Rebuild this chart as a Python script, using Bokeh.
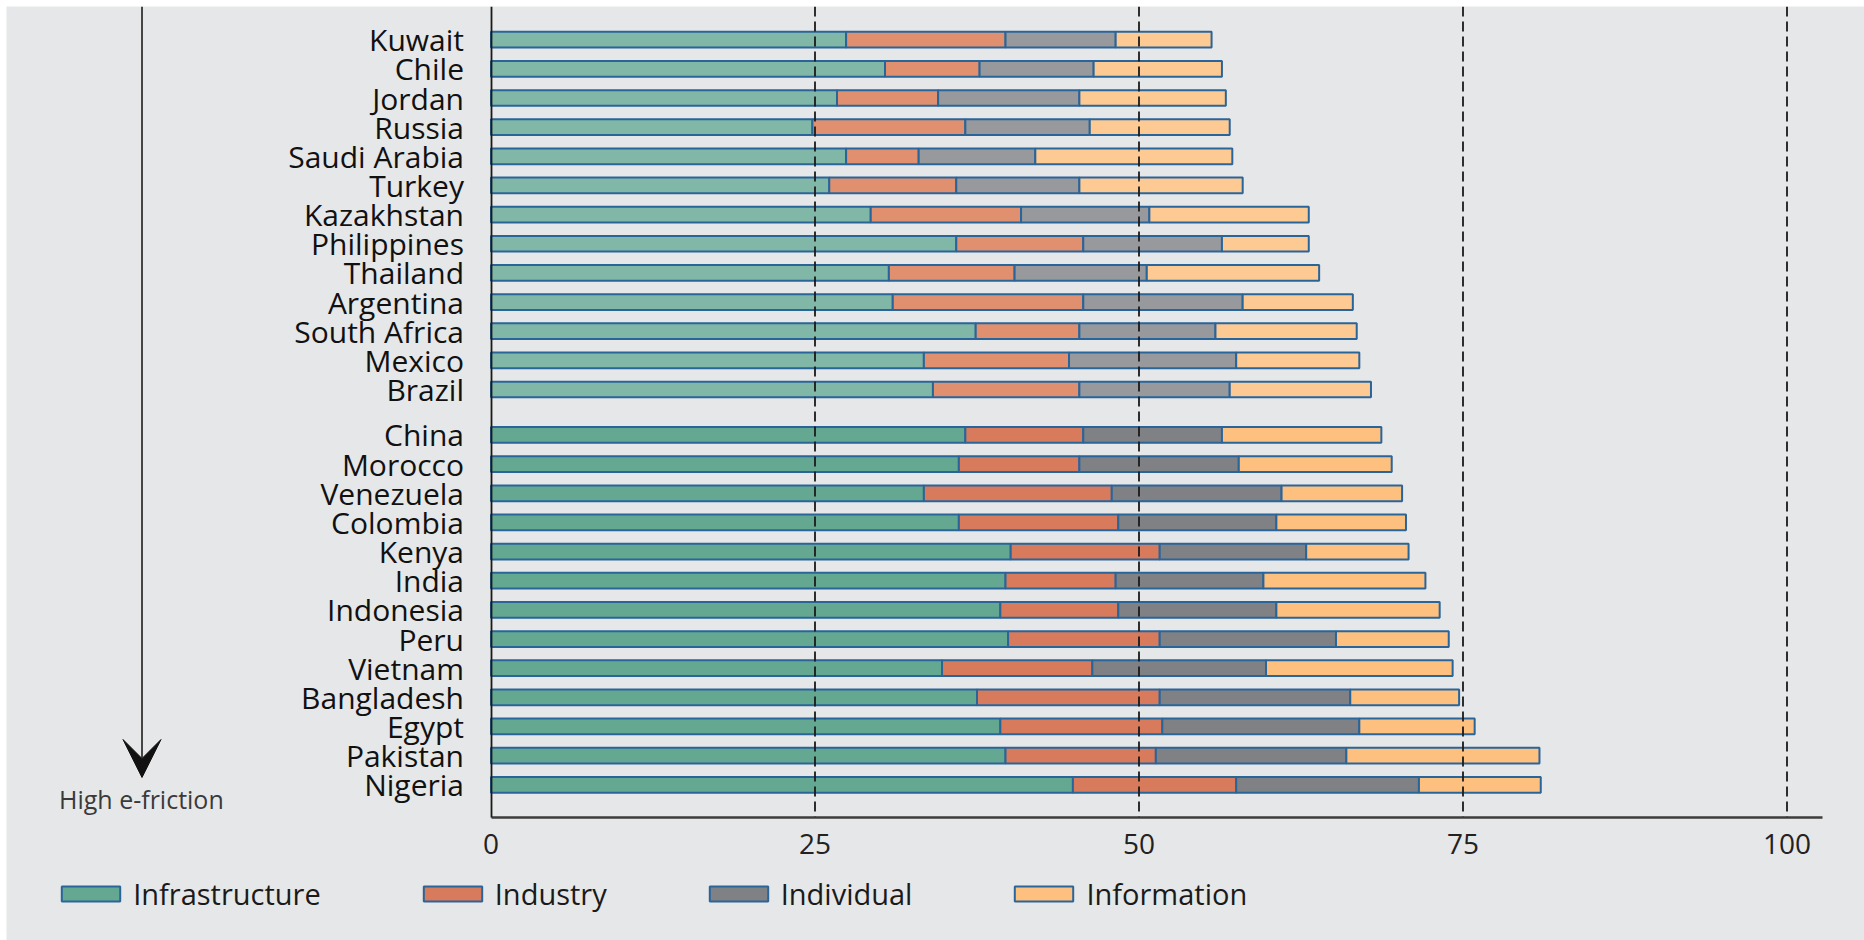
from bokeh.plotting import figure
from bokeh.models import (ColumnDataSource, Range1d, FixedTicker, Legend, LegendItem,
                          Label, Arrow, VeeHead, LinearAxis)
from bokeh.embed import file_html
from bokeh.resources import INLINE

# ---------------- data ----------------
countries_top = ["Kuwait", "Chile", "Jordan", "Russia", "Saudi Arabia", "Turkey", "Kazakhstan",
                 "Philippines", "Thailand", "Argentina", "South Africa", "Mexico", "Brazil"]
infra_top = [27.4, 30.4, 26.7, 24.8, 27.4, 26.1, 29.3, 35.9, 30.7, 31.0, 37.4, 33.4, 34.1]
industry_top = [12.3, 7.3, 7.8, 11.8, 5.6, 9.8, 11.6, 9.8, 9.7, 14.7, 8.0, 11.2, 11.3]
individual_top = [8.5, 8.8, 10.9, 9.6, 9.0, 9.5, 9.9, 10.7, 10.2, 12.3, 10.5, 12.9, 11.6]
information_top = [7.4, 9.9, 11.3, 10.8, 15.2, 12.6, 12.3, 6.7, 13.3, 8.5, 10.9, 9.5, 10.9]

countries_bot = ["China", "Morocco", "Venezuela", "Colombia", "Kenya", "India", "Indonesia",
                 "Peru", "Vietnam", "Bangladesh", "Egypt", "Pakistan", "Nigeria"]
infra_bot = [36.6, 36.1, 33.4, 36.1, 40.1, 39.7, 39.3, 39.9, 34.8, 37.5, 39.3, 39.7, 44.9]
industry_bot = [9.1, 9.3, 14.5, 12.3, 11.5, 8.5, 9.1, 11.7, 11.6, 14.1, 12.5, 11.6, 12.6]
individual_bot = [10.7, 12.3, 13.1, 12.2, 11.3, 11.4, 12.2, 13.6, 13.4, 14.7, 15.2, 14.7, 14.1]
information_bot = [12.3, 11.8, 9.3, 10.0, 7.9, 12.5, 12.6, 8.7, 14.4, 8.4, 8.9, 14.9, 9.4]

series = ["Infrastructure", "Industry", "Individual", "Information"]
x_ticks = [0, 25, 50, 75, 100]
ref_lines = [25, 50, 75, 100]

# ---------------- styling / geometry ----------------
BG = "#e6e7e8"
EDGE = "#2a659a"
colors_top = ["#80b7a7", "#e0906f", "#98999c", "#fdca94"]
colors_bot = ["#65a891", "#d77b5c", "#808185", "#fec07f"]
FONT = "Open Sans"
GAP = 0.56  # extra space between the two groups (in rows)

OFF = 6                    # figure offset on the page
W, H = 1864 - OFF, 940 - OFF
X0_PX, PX_PER_X = 490.5, 12.96     # page px of value 0, px per unit
ROW0_PX, ROW_PX = 39.2, 29.15      # page px of first row centre, row pitch


def px_x(px):
    return (px - X0_PX) / PX_PER_X


def px_y(py):
    return -(py - ROW0_PX) / ROW_PX


AXIS_Y = px_y(816.5)
TOP_Y = px_y(OFF)
X_END = px_x(1821.7)

y_top = [-float(i) for i in range(len(countries_top))]
y_bot = [-(len(countries_top) + GAP + i) for i in range(len(countries_bot))]

keys = ["infra", "industry", "individual", "information"]
src_top = ColumnDataSource(dict(y=y_top, infra=infra_top, industry=industry_top,
                                individual=individual_top, information=information_top))
src_bot = ColumnDataSource(dict(y=y_bot, infra=infra_bot, industry=industry_bot,
                                individual=individual_bot, information=information_bot))

p = figure(width=W, height=H, output_backend="svg", toolbar_location=None,
           x_range=Range1d(px_x(OFF), px_x(1864)), y_range=Range1d(px_y(940), TOP_Y),
           x_axis_type=None, y_axis_type=None,
           min_border=0, margin=(OFF, 0, 0, OFF),
           background_fill_color=BG, border_fill_color=BG, outline_line_color=None)
p.grid.visible = False

BAR_H = 0.54
r_top = p.hbar_stack(keys, y="y", height=BAR_H, source=src_top, fill_color=colors_top,
                     line_color=EDGE, line_width=2)
r_bot = p.hbar_stack(keys, y="y", height=BAR_H, source=src_bot, fill_color=colors_bot,
                     line_color=EDGE, line_width=2)

# dashed reference lines at the tick values
p.segment(x0=ref_lines, x1=ref_lines, y0=[TOP_Y] * len(ref_lines), y1=[AXIS_Y] * len(ref_lines),
          line_color="#1a1a1a", line_width=1.8, line_dash="10 5")

# x axis
xa = LinearAxis(fixed_location=AXIS_Y, bounds=(0, X_END), ticker=FixedTicker(ticks=x_ticks))
xa.major_tick_out = 0
xa.major_tick_in = 0
xa.minor_tick_out = 0
xa.minor_tick_in = 0
xa.axis_line_color = "#3d3d3d"
xa.axis_line_width = 2.5
xa.major_label_text_font = FONT
xa.major_label_text_font_size = "28px"
xa.major_label_text_color = "#222222"
xa.major_label_standoff = 17
p.add_layout(xa, "below")

# y axis with country names
all_y = y_top + y_bot
all_names = countries_top + countries_bot
ya = LinearAxis(fixed_location=0, bounds=(AXIS_Y, TOP_Y), ticker=FixedTicker(ticks=all_y))
ya.major_label_overrides = {yy: nm for yy, nm in zip(all_y, all_names)}
ya.major_tick_out = 0
ya.major_tick_in = 0
ya.minor_tick_out = 0
ya.minor_tick_in = 0
ya.axis_line_color = "#1a1a1a"
ya.axis_line_width = 1.8
ya.major_label_text_font = FONT
ya.major_label_text_font_size = "30px"
ya.major_label_text_color = "#111111"
ya.major_label_standoff = 27
p.add_layout(ya, "left")

# legend
items = [LegendItem(label=s, renderers=[r]) for s, r in zip(series, r_bot)]
leg = Legend(items=items, orientation="horizontal", location=(54.2 - OFF, 940 - 893.7 - 19.75),
             glyph_width=73, glyph_height=19, label_standoff=6, spacing=95,
             padding=0, margin=0, border_line_color=None, background_fill_alpha=0,
             label_text_font=FONT, label_text_font_size="29px", label_text_color="#1a1a1a")
p.add_layout(leg)

# decorative arrow + label
ax = px_x(141.5)
p.add_layout(Arrow(x_start=ax, y_start=TOP_Y, x_end=ax, y_end=px_y(777),
                   line_color="#111111", line_width=1.5,
                   end=VeeHead(size=38, fill_color="#111111", line_color="#111111")))
p.add_layout(Label(x=px_x(58.5), y=px_y(798), text="High e-friction",
                   text_font=FONT, text_font_size="25px", text_color="#3a3a3a",
                   text_baseline="alphabetic", text_align="left"))

open("out.html", "w").write(file_html(p, INLINE))
